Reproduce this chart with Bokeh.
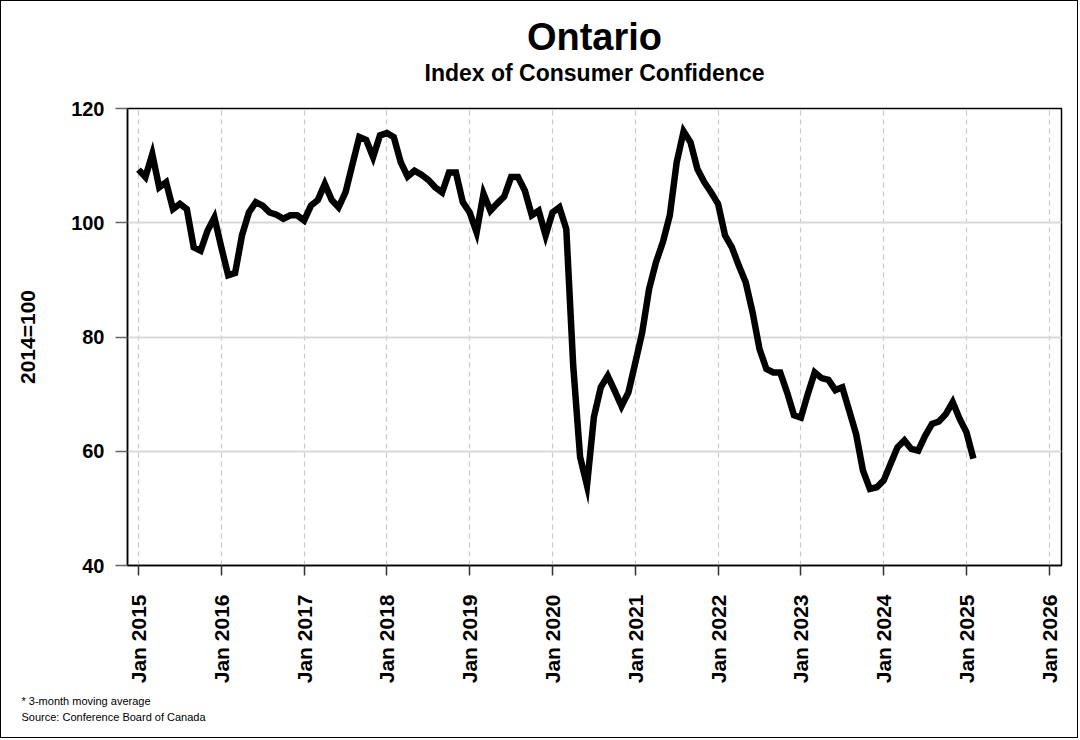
import math
from bokeh.plotting import figure
from bokeh.models import FixedTicker, Range1d, Title
from bokeh.embed import file_html
from bokeh.resources import INLINE

# ---------------- data (monthly, 3-month moving average, 2014=100) ----------------
start_year = 2015
values_2015 = [109.3, 108.0, 112.0, 106.2, 107.1, 102.4, 103.3, 102.4, 95.7, 95.1, 98.6, 100.9]
values_2016 = [95.7, 90.8, 91.2, 97.8, 101.8, 103.6, 103.0, 101.8, 101.4, 100.7, 101.3, 101.3]
values_2017 = [100.4, 103.0, 104.0, 106.8, 104.0, 102.7, 105.3, 110.2, 115.0, 114.5, 111.5, 115.3]
values_2018 = [115.7, 115.0, 110.6, 108.1, 109.1, 108.4, 107.5, 106.2, 105.3, 108.8, 108.8, 103.6]
values_2019 = [101.8, 98.3, 105.1, 102.1, 103.4, 104.6, 108.0, 108.0, 105.6, 101.3, 102.1, 97.8]
values_2020 = [101.8, 102.7, 98.9, 75.0, 59.0, 54.0, 66.0, 71.2, 73.2, 70.6, 67.9, 70.3]
values_2021 = [75.5, 80.8, 88.4, 93.1, 96.6, 101.3, 110.6, 116.0, 114.1, 109.4, 107.1, 105.3]
values_2022 = [103.3, 97.8, 95.7, 92.5, 89.6, 84.3, 77.9, 74.4, 73.8, 73.8, 70.3, 66.3]
values_2023 = [65.9, 70.0, 73.8, 72.8, 72.5, 70.7, 71.2, 67.1, 63.0, 56.6, 53.4, 53.7]
values_2024 = [54.9, 57.8, 60.7, 61.9, 60.4, 60.1, 62.7, 64.8, 65.2, 66.5, 68.6, 65.7]
values_2025 = [63.3, 58.7]

index_values = (values_2015 + values_2016 + values_2017 + values_2018 + values_2019 +
                values_2020 + values_2021 + values_2022 + values_2023 + values_2024 +
                values_2025)
# month positions as fractional years (Jan 2015 = 2015.0)
month_x = [start_year + i / 12 for i in range(len(index_values))]

tick_years = list(range(2015, 2027))
tick_labels = ["Jan %d" % y for y in tick_years]
y_ticks = [40, 60, 80, 100, 120]

title_text = "Ontario"
subtitle_text = "Index of Consumer Confidence"
y_label_text = "2014=100"
note_texts = ["* 3-month moving average", "Source: Conference Board of Canada"]

# ---------------- layout (page pixel coordinates of the reference) ----------------
W, H = 1078, 738
OFF = 1                       # 1px CSS border
FL, FT, FR, FB = 127, 108, 1061, 565
JAN15_PX, YEAR_PX = 138, 82.8


def xd(px):
    return 2015 + (px - JAN15_PX) / YEAR_PX


FONT = "Liberation Sans"

p = figure(width=W, height=H, output_backend="svg", toolbar_location=None,
           x_range=Range1d(xd(FL), xd(FR)), y_range=Range1d(40, 120),
           min_border_left=FL - OFF, min_border_top=FT - OFF,
           min_border_right=W - (FR - OFF), min_border_bottom=H - (FB - OFF),
           background_fill_color="white", border_fill_color="white")
p.styles = {"border": "1px solid black"}
p.outline_line_color = "black"
p.outline_line_width = 1.5

p.line(month_x, index_values, line_width=6.5, line_color="black", line_join="miter")

# grids
p.xgrid.grid_line_color = "#c8c8c8"
p.xgrid.grid_line_dash = "5 4"
p.xgrid.grid_line_width = 1.2
p.ygrid.grid_line_color = "#d9d9d9"
p.ygrid.grid_line_width = 2

# x axis
p.xaxis.ticker = FixedTicker(ticks=tick_years)
p.xaxis.major_label_overrides = {y: l for y, l in zip(tick_years, tick_labels)}
p.xaxis.major_label_orientation = math.pi / 2
p.xaxis.major_label_text_font = FONT
p.xaxis.major_label_text_font_size = "21px"
p.xaxis.major_label_text_font_style = "bold"
p.xaxis.major_label_text_color = "black"
p.xaxis.major_label_standoff = 19
p.xaxis.major_tick_in = 0
p.xaxis.major_tick_out = 10
p.xaxis.major_tick_line_color = "#333333"
p.xaxis.major_tick_line_width = 1.5
p.xaxis.minor_tick_line_color = None
p.xaxis.axis_line_color = "black"
p.xaxis.axis_line_width = 1.5

# y axis
p.yaxis.ticker = FixedTicker(ticks=y_ticks)
p.yaxis.major_label_text_font = FONT
p.yaxis.major_label_text_font_size = "20px"
p.yaxis.major_label_text_font_style = "bold"
p.yaxis.major_label_text_color = "black"
p.yaxis.major_label_standoff = 11
p.yaxis.major_tick_in = 0
p.yaxis.major_tick_out = 12
p.yaxis.major_tick_line_color = "#666666"
p.yaxis.major_tick_line_width = 1.5
p.yaxis.minor_tick_line_color = None
p.yaxis.axis_line_color = "black"
p.yaxis.axis_line_width = 1.5
p.yaxis.axis_label = y_label_text
p.yaxis.axis_label_text_font = FONT
p.yaxis.axis_label_text_font_size = "21px"
p.yaxis.axis_label_text_font_style = "bold"
p.yaxis.axis_label_text_color = "black"
p.yaxis.axis_label_standoff = 29

# titles (first added sits closest to the frame); a blank spacer keeps a gap above the frame
p.add_layout(Title(text=" ", text_font=FONT, text_font_size="1px", text_color="white",
                   standoff=20), "above")
p.add_layout(Title(text=subtitle_text, align="center", text_font=FONT,
                   text_font_size="23px", text_font_style="bold", text_color="black",
                   standoff=0), "above")
p.add_layout(Title(text=title_text, align="center", text_font=FONT,
                   text_font_size="38px", text_font_style="bold", text_color="black",
                   standoff=0), "above")

# footnotes (blank spacer below the axis first)
p.add_layout(Title(text=" ", text_font=FONT, text_font_size="1px", text_color="white",
                   standoff=2), "below")
for txt in note_texts:
    p.add_layout(Title(text=txt, align="left", offset=-106, text_font=FONT,
                       text_font_size="11px", text_font_style="normal", text_color="black",
                       standoff=1.5), "below")

open("out.html", "w").write(file_html(p, INLINE))
